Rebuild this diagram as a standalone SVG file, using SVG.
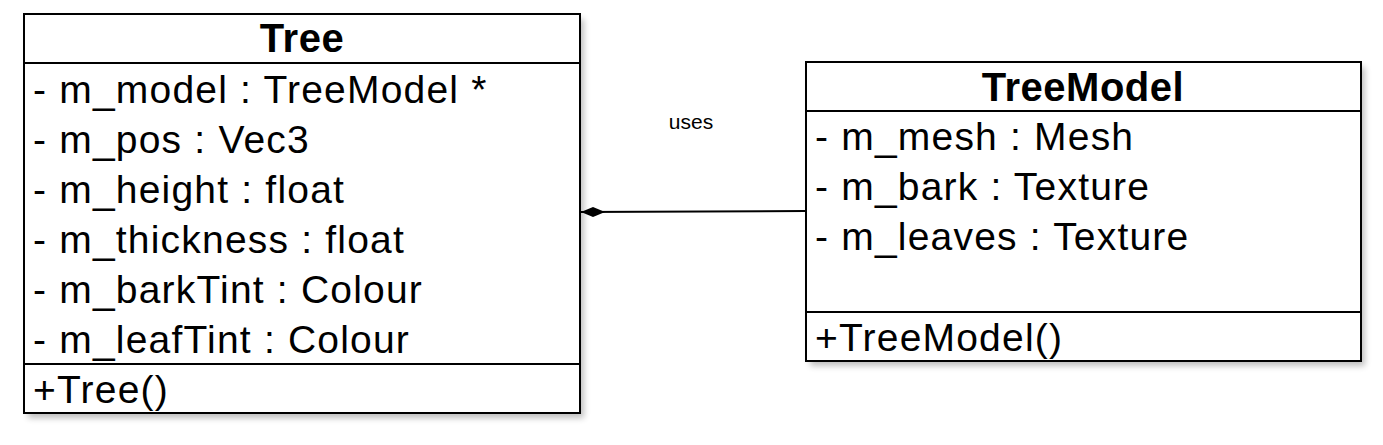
<svg xmlns="http://www.w3.org/2000/svg" width="1383" height="445" viewBox="0 0 1383 445">
<style>
.box{fill:#fff;stroke:#000;stroke-width:2}
.sh{fill:#000;opacity:0.25;filter:url(#b)}
.t{font-family:"Liberation Sans",Arial,sans-serif;font-size:39px;letter-spacing:1.2px;fill:#000}
.h{font-weight:bold;text-anchor:middle;font-size:40px;letter-spacing:0.5px}
.ln{stroke:#000;stroke-width:2}
</style>
<defs>
<filter id="b"><feGaussianBlur stdDeviation="3"/></filter>
<marker id="dia" markerWidth="26" markerHeight="12" refX="1" refY="6" orient="auto" markerUnits="userSpaceOnUse">
<path d="M1,6 L13,1 L25,6 L13,11 Z" fill="#000"/>
</marker>
</defs>
<g id="connectors">
<line x1="581" y1="212" x2="806" y2="211" class="ln" stroke-width="1.5" marker-start="url(#dia)"/>
<text x="691" y="129" font-family="Liberation Sans,Arial,sans-serif" font-size="21" text-anchor="middle">uses</text>
</g>
<g id="Tree">
<rect x="28" y="19" width="556" height="399" class="sh"/>
<rect x="24" y="14" width="556" height="399" class="box"/>
<line x1="24" y1="63" x2="580" y2="63" class="ln"/>
<line x1="24" y1="364" x2="580" y2="364" class="ln"/>
<text x="302" y="52" class="t h">Tree</text>
<text x="33" y="103" class="t">- m_model : TreeModel *</text>
<text x="33" y="153" class="t">- m_pos : Vec3</text>
<text x="33" y="203" class="t">- m_height : float</text>
<text x="33" y="253" class="t">- m_thickness : float</text>
<text x="33" y="303" class="t">- m_barkTint : Colour</text>
<text x="33" y="353" class="t">- m_leafTint : Colour</text>
<text x="33" y="403" class="t">+Tree()</text>
</g>
<g id="TreeModel">
<rect x="810" y="67" width="555" height="299" class="sh"/>
<rect x="806" y="62" width="555" height="299" class="box"/>
<line x1="806" y1="111" x2="1361" y2="111" class="ln"/>
<line x1="806" y1="312" x2="1361" y2="312" class="ln"/>
<text x="1083" y="101" class="t h">TreeModel</text>
<text x="815" y="150" class="t">- m_mesh : Mesh</text>
<text x="815" y="200" class="t">- m_bark : Texture</text>
<text x="815" y="250" class="t">- m_leaves : Texture</text>
<text x="815" y="351" class="t">+TreeModel()</text>
</g>
</svg>
